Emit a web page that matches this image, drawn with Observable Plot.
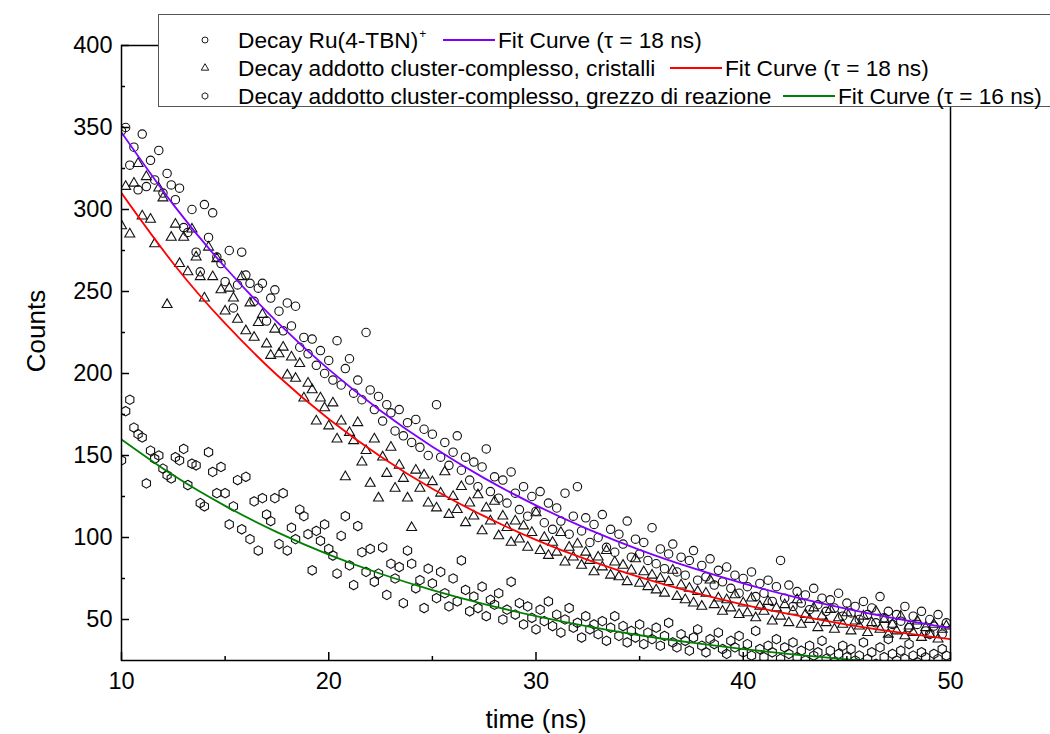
<!DOCTYPE html>
<html>
<head>
<meta charset="utf-8">
<script src="https://cdn.jsdelivr.net/npm/d3@7"></script>
<script src="https://cdn.jsdelivr.net/npm/@observablehq/plot@0.6"></script>
<style>
  html, body { margin: 0; padding: 0; background: #fff; overflow: hidden; }
  body { font-family: "Liberation Sans", Arial, sans-serif; color: #000; }
  #wrap { position: relative; width: 1050px; height: 734px; overflow: hidden; }
  #legendBox { position: absolute; left: 158px; top: 14px; width: 960px; height: 91px;
               border: 1.5px solid #555; background: #fff; }
  .lg { position: absolute; font-size: 22.7px; line-height: 28px; white-space: nowrap; }
  .lg sup { font-size: 12px; position: relative; top: -6px; vertical-align: top; margin-left: 1px; }
  .sym { position: absolute; }
  .fitline { position: absolute; height: 0; border-top: 2px solid; }
</style>
</head>
<body>
<div id="wrap"></div>
<script>
// ---------------- data ----------------
const tStart = 10;      // first sample (ns)
const tStep = 0.2;      // sampling interval (ns)

// Decay Ru(4-TBN)+  (circles)
const countsRu = [
  348, 350, 327, 338, 312,
  346, 314, 330, 318, 336,
  310, 322, 315, 306, 313,
  289, 286, 300, 274, 262,
  303, 283, 298, 271, 267,
  256, 275, 240, 254, 274,
  260, 255, 244, 252, 255,
  232, 246, 251, 238, 226,
  243, 229, 241, 216, 222,
  212, 221, 205, 214, 200,
  208, 196, 220, 193, 203,
  209, 188, 196, 184, 225,
  190, 178, 186, 171, 181,
  176, 165, 178, 162, 170,
  158, 172, 155, 166, 150,
  163, 181, 149, 158, 144,
  152, 162, 141, 149, 135,
  146, 131, 143, 154, 128,
  137, 124, 135, 121, 140,
  127, 117, 131, 113, 125,
  116, 128, 109, 121, 105,
  118, 110, 127, 102, 113,
  131, 104, 112, 97, 108,
  100, 114, 94, 105, 91,
  102, 96, 110, 88, 99,
  90, 97, 86, 106, 84,
  93, 81, 90, 96, 79,
  88, 77, 86, 92, 74,
  83, 76, 87, 71, 80,
  73, 82, 69, 77, 66,
  75, 70, 79, 64, 72,
  66, 74, 61, 70, 86,
  63, 71, 58, 67, 60,
  65, 56, 69, 59, 63,
  55, 62, 57, 66, 52,
  60, 54, 58, 50, 61,
  53, 57, 48, 64, 51,
  55, 47, 53, 49, 58,
  45, 52, 47, 55, 43,
  50, 46, 53, 41, 48
];

// Decay addotto cluster-complesso, cristalli  (triangles)
const countsCrystals = [
  290, 314, 285, 316, 328,
  296, 320, 294, 279, 313,
  307, 242, 283, 291, 267,
  283, 262, 288, 271, 259,
  246, 277, 259, 270, 251,
  238, 252, 246, 233, 259,
  226, 243, 222, 231, 236,
  218, 211, 227, 212, 216,
  199, 210, 197, 206, 185,
  194, 190, 171, 185, 179,
  168, 182, 160, 171, 137,
  164, 159, 170, 146, 153,
  133, 160, 124, 149, 139,
  155, 130, 144, 136, 124,
  106, 141, 130, 138, 121,
  134, 118, 127, 140, 114,
  125, 117, 131, 109, 121,
  113, 126, 104, 118, 110,
  122, 101, 113, 106, 97,
  110, 99, 107, 94, 103,
  115, 92, 100, 89, 97,
  91, 103, 85, 94, 88,
  96, 83, 91, 86, 79,
  88, 82, 92, 77, 85,
  76, 83, 73, 80, 87,
  72, 79, 70, 77, 68,
  75, 66, 73, 80, 64,
  71, 62, 69, 60, 67,
  58, 66, 74, 59, 63,
  55, 62, 57, 65, 53,
  60, 54, 63, 51, 58,
  55, 61, 49, 57, 52,
  59, 48, 55, 62, 47,
  53, 50, 57, 45, 52,
  48, 56, 44, 51, 47,
  54, 43, 49, 46, 52,
  42, 48, 55, 44, 50,
  41, 47, 43, 52, 40,
  46, 42, 49, 39, 45,
  41, 47, 38, 44, 46
];

// Decay addotto cluster-complesso, grezzo di reazione  (hexagons)
const countsCrude = [
  147, 177, 184, 167, 163,
  161, 133, 153, 148, 150,
  142, 138, 136, 149, 147,
  154, 132, 145, 144, 121,
  119, 152, 140, 127, 143,
  127, 108, 119, 135, 105,
  137, 99, 122, 92, 124,
  114, 110, 124, 96, 127,
  92, 106, 99, 117, 113,
  102, 80, 104, 98, 108,
  93, 89, 78, 101, 113,
  83, 71, 107, 91, 79,
  93, 73, 78, 94, 65,
  84, 75, 82, 60, 92,
  84, 69, 74, 57, 81,
  72, 63, 79, 66, 58,
  75, 61, 86, 68, 55,
  64, 57, 70, 52, 62,
  59, 66, 50, 56, 73,
  53, 60, 47, 58, 51,
  44, 56, 49, 61, 46,
  53, 42, 50, 57, 45,
  48, 39, 52, 44, 47,
  41, 49, 37, 45, 52,
  40, 46, 36, 43, 39,
  47, 35, 42, 38, 45,
  34, 40, 48, 36, 33,
  41, 37, 31, 39, 44,
  34, 30, 38, 35, 42,
  32, 29, 37, 33, 40,
  30, 35, 28, 43, 32,
  27, 34, 30, 38, 26,
  33, 29, 36, 27, 31,
  25, 34, 28, 30, 37,
  26, 31, 24, 29, 34,
  27, 32, 25, 28, 36,
  26, 30, 23, 33, 27,
  38, 29, 25, 31, 26,
  35, 28, 24, 30, 27,
  41, 29, 26, 32, 28
];

// fit curves
const fitTimes  = [10, 12.5, 15, 17.5, 20, 22.5, 25, 27.5, 30, 32.5, 35, 37.5, 40, 42.5, 45, 47.5, 50];
const fitRu       = [347, 303, 264.8, 231.5, 202.5, 177.3, 155.3, 136.2, 119.6, 105.1, 92.5, 81.6, 72, 63.7, 56.5, 50.2, 44.7];
const fitCrystals = [310, 267.1, 230.5, 199.1, 172.3, 149.4, 129.7, 113, 98.6, 86.3, 75.8, 66.8, 59.1, 52.6, 46.9, 42.1, 38];
const fitCrude    = [159.8, 137.9, 119.3, 103.3, 89.6, 77.9, 67.9, 59.4, 52.1, 45.8, 40.4, 35.9, 32, 28.6, 25.7, 23.3, 21.2];

// axes
const xTicks = [10, 20, 30, 40, 50];
const xMinorTicks = [15, 25, 35, 45];
const yTicks = [50, 100, 150, 200, 250, 300, 350, 400];
const yMinorTicks = [75, 125, 175, 225, 275, 325, 375];
const xLabel = "time (ns)";
const yLabel = "Counts";

// legend
const legendNames = ["Decay Ru(4-TBN)", "Decay addotto cluster-complesso, cristalli", "Decay addotto cluster-complesso, grezzo di reazione"];
const legendSup = ["+", "", ""];
const fitNames = ["Fit Curve (\u03c4 = 18 ns)", "Fit Curve (\u03c4 = 18 ns)", "Fit Curve (\u03c4 = 16 ns)"];
const fitColors = ["#7f00ff", "#ff0000", "#008000"];

// ---------------- build ----------------
const asRows = (vals) => vals.map((v, i) => ({t: Math.round((tStart + i * tStep) * 100) / 100, v}));
const asFit = (vals) => vals.map((v, i) => ({t: fitTimes[i], v}));

const hexagon = {
  draw(context, size) {
    const R = Math.sqrt(size / (1.5 * Math.sqrt(3)));
    for (let k = 0; k < 6; ++k) {
      const a = Math.PI / 3 * k - Math.PI / 2;
      const x = R * Math.cos(a), y = R * Math.sin(a);
      if (k) context.lineTo(x, y); else context.moveTo(x, y);
    }
    context.closePath();
  }
};

const dotStyle = {x: "t", y: "v", fill: "none", stroke: "#111", strokeWidth: 1.1, clip: true};
const lineStyle = {x: "t", y: "v", strokeWidth: 1.8, curve: "natural", clip: true};

const chart = Plot.plot({
  width: 1050,
  height: 734,
  marginLeft: 121,
  marginRight: 100,
  marginTop: 45,
  marginBottom: 74,
  style: {fontFamily: "'Liberation Sans', Arial, sans-serif", color: "#000", background: "#fff"},
  x: {domain: [10, 50]},
  y: {domain: [25, 400]},
  marks: [
    Plot.dot(asRows(countsRu), {...dotStyle, symbol: "circle", r: 4.2}),
    Plot.dot(asRows(countsCrystals), {...dotStyle, symbol: "triangle", r: 3.7}),
    Plot.dot(asRows(countsCrude), {...dotStyle, symbol: hexagon, r: 4.3}),
    Plot.line(asFit(fitRu), {...lineStyle, stroke: fitColors[0]}),
    Plot.line(asFit(fitCrystals), {...lineStyle, stroke: fitColors[1]}),
    Plot.line(asFit(fitCrude), {...lineStyle, stroke: fitColors[2]}),
    Plot.frame({stroke: "#000", strokeWidth: 1.5}),
    Plot.axisY(yTicks, {tickSize: -8, strokeWidth: 1.5, fontSize: 23.5, label: null}),
    Plot.axisY(yMinorTicks, {tickSize: -4, strokeWidth: 1.5, fill: "none", label: null}),
    Plot.axisX(xTicks, {tickSize: -8, tickPadding: 20, strokeWidth: 1.5, fontSize: 23.5, label: null}),
    Plot.axisX(xMinorTicks, {tickSize: -4, strokeWidth: 1.5, fill: "none", label: null}),
    Plot.text([yLabel], {frameAnchor: "left", rotate: -90, dx: -85, dy: -22, fontSize: 26, textAnchor: "middle", lineAnchor: "middle", fill: "#000"}),
    Plot.text([xLabel], {frameAnchor: "bottom", dy: 59, fontSize: 26, textAnchor: "middle", lineAnchor: "middle", fill: "#000"})
  ]
});

const wrap = document.getElementById("wrap");
wrap.appendChild(chart);

// legend overlay
const box = document.createElement("div");
box.id = "legendBox";
wrap.appendChild(box);

const baselines = [47.3, 75.7, 103.3];
const symbolX = 205;
const textX = 238;
const fitLineX = [443, 670, 783];
const fitLineW = 52;
const symbols = ["circle", "triangle", "hexagon"];

function symbolSvg(kind) {
  const ns = "http://www.w3.org/2000/svg";
  const svg = document.createElementNS(ns, "svg");
  svg.setAttribute("width", 12); svg.setAttribute("height", 12);
  svg.setAttribute("viewBox", "-6 -6 12 12");
  let el;
  if (kind === "circle") {
    el = document.createElementNS(ns, "circle"); el.setAttribute("r", 3);
  } else if (kind === "triangle") {
    el = document.createElementNS(ns, "path"); el.setAttribute("d", d3.symbol(d3.symbolTriangle, 24)());
  } else {
    el = document.createElementNS(ns, "path");
    const p = d3.path(); hexagon.draw(p, 28); el.setAttribute("d", p.toString());
  }
  el.setAttribute("fill", "none"); el.setAttribute("stroke", "#1a1a1a"); el.setAttribute("stroke-width", 1);
  svg.appendChild(el);
  return svg;
}

legendNames.forEach((name, i) => {
  const top = baselines[i] - 21.8;
  const center = baselines[i] - 7.5;
  const s = symbolSvg(symbols[i]);
  s.classList.add("sym");
  s.style.left = (symbolX - 6) + "px"; s.style.top = (center - 6) + "px";
  wrap.appendChild(s);

  const t = document.createElement("div");
  t.className = "lg";
  t.style.left = textX + "px"; t.style.top = top + "px";
  t.textContent = name;
  if (legendSup[i]) { const sp = document.createElement("sup"); sp.textContent = legendSup[i]; t.appendChild(sp); }
  wrap.appendChild(t);

  const ln = document.createElement("div");
  ln.className = "fitline";
  ln.style.left = fitLineX[i] + "px"; ln.style.top = (center - 1) + "px";
  ln.style.width = fitLineW + "px"; ln.style.borderTopColor = fitColors[i];
  wrap.appendChild(ln);

  const f = document.createElement("div");
  f.className = "lg";
  f.style.left = (fitLineX[i] + fitLineW + 3) + "px"; f.style.top = top + "px";
  f.textContent = fitNames[i];
  wrap.appendChild(f);
});
</script>
</body>
</html>
